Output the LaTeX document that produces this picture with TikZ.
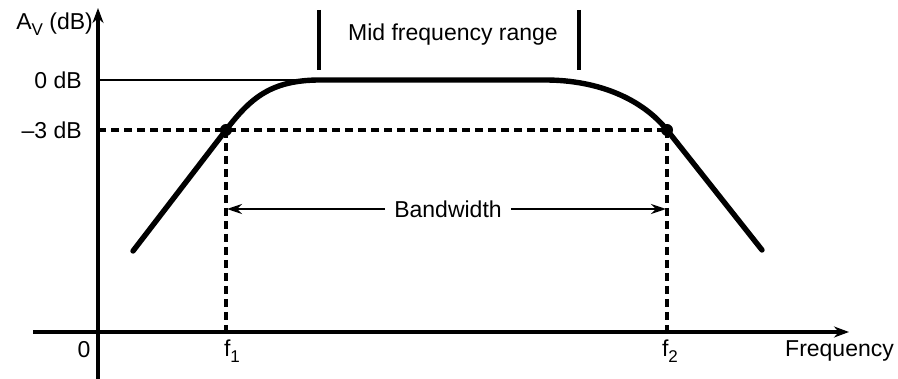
\documentclass[tikz,border=0pt]{standalone}
\usepackage{fontspec}
\setmainfont{Liberation Sans}
\usetikzlibrary{arrows.meta}
\begin{document}
\begin{tikzpicture}[x=1pt,y=-1pt,
  lbl/.style={inner sep=0pt,font=\fontsize{23}{27}\selectfont},
  axis/.style={line width=3.2pt,-{Stealth[length=15pt,width=11pt]}},
  guide/.style={line width=3.2pt,dash pattern=on 8pt off 5pt},
  response/.style={line width=5.4pt,line cap=round,line join=round},
  bwarrow/.style={line width=2.6pt,-{Stealth[length=15pt,width=10pt]}},
  bar/.style={line width=3.4pt},
  marker/.style={circle,fill=black,inner sep=0pt,minimum size=12pt}]
\useasboundingbox (0,0) rectangle (898,379);

% axes
\coordinate (ybot) at (98,379);
\coordinate (ytop) at (98,8);
\coordinate (xleft) at (33,332);
\coordinate (xright) at (849,332);
\draw[axis] (ybot) -- (ytop);
\draw[axis] (xleft) -- (xright);

% reference levels and cut-off frequencies
\coordinate (zl) at (98,80);
\coordinate (zr) at (320,80);
\coordinate (ml) at (98,130);
\node[marker] (p1) at (226,130) {};
\node[marker] (p2) at (667,130) {};
\coordinate (f1b) at (226,332);
\coordinate (f2b) at (667,332);
\draw[line width=2.8pt] (zl) -- (zr);
\draw[guide] (ml) -- (p2.center);
\draw[guide] (p1.center) -- (f1b);
\draw[guide] (p2.center) -- (f2b);

% frequency response
\coordinate (c0) at (133,251);
\coordinate (c5) at (762,250);
\draw[response] (c0) -- (p1.center)
  .. controls (250,99) and (270,80) .. (320,80)
  -- (545,80)
  .. controls (600,80) and (643,100) .. (p2.center)
  -- (c5);

% bandwidth
\node[lbl,inner xsep=9pt] (bw) at (448,209) {Bandwidth};
\coordinate (bwl) at (227,209);
\coordinate (bwr) at (666,209);
\draw[bwarrow] (bw.west) -- (bwl);
\draw[bwarrow] (bw.east) -- (bwr);

% mid frequency range
\coordinate (m1t) at (319,10);
\coordinate (m1b) at (319,70);
\coordinate (m2t) at (579,10);
\coordinate (m2b) at (579,70);
\draw[bar] (m1t) -- (m1b);
\draw[bar] (m2t) -- (m2b);
\node[lbl] (mid) at (453,35) {Mid frequency range};

% labels
\node[lbl,anchor=east] (av) at (93,24) {A\raisebox{-6pt}{\fontsize{17}{20}\selectfont V} (dB)};
\node[lbl,anchor=east] (l0) at (82,80) {0 dB};
\node[lbl,anchor=east] (l3) at (82,130) {–3 dB};
\node[lbl] (o) at (84,350) {0};
\node[lbl] (lf1) at (232,351) {f\raisebox{-6pt}{\fontsize{17}{20}\selectfont 1}};
\node[lbl] (lf2) at (670,351) {f\raisebox{-6pt}{\fontsize{17}{20}\selectfont 2}};
\node[lbl,anchor=west] (fr) at (785,351) {Frequency};
\end{tikzpicture}
\end{document}
